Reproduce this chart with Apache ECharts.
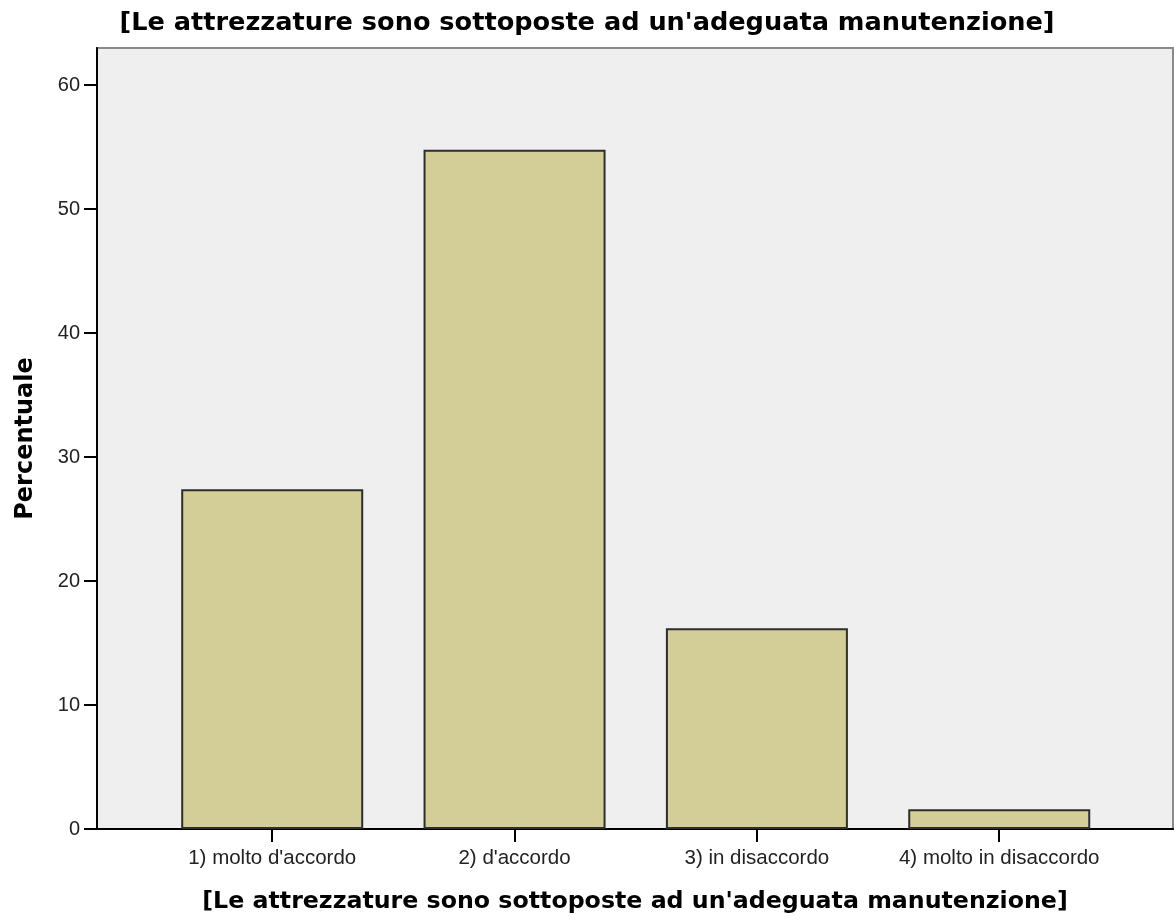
<!DOCTYPE html>
<html>
<head>
<meta charset="utf-8">
<script src="https://cdn.jsdelivr.net/npm/echarts@6/dist/echarts.min.js"></script>
<style>
  html, body { margin: 0; padding: 0; background: #fff; }
  #chart { width: 1174px; height: 923px; }
</style>
</head>
<body>
<div id="chart"></div>
<script>
  // categorie e percentuali
  const categories = ['1) molto d\'accordo', '2) d\'accordo', '3) in disaccordo', '4) molto in disaccordo'];
  const positions = [1, 2, 3, 4];
  const percent = [27.4, 54.8, 16.2, 1.6];
  const yTicks = [0, 10, 20, 30, 40, 50, 60];

  const titleText = '[Le attrezzature sono sottoposte ad un\'adeguata manutenzione]';

  let chart = echarts.init(document.getElementById('chart'));
  let option = {
    backgroundColor: '#ffffff',
    animation: false,
    title: {
      text: titleText,
      left: 'center',
      top: 5,
      textStyle: {
        fontFamily: 'DejaVu Sans',
        fontWeight: 'bold',
        fontSize: 25.6,
        color: '#000'
      }
    },
    grid: {
      left: 97,
      right: 1,
      top: 48,
      bottom: 94,
      show: true,
      backgroundColor: '#efefef',
      borderColor: '#8a8a8a',
      borderWidth: 2
    },
    xAxis: {
      type: 'value',
      min: 0.277,
      max: 4.717,
      name: titleText,
      nameLocation: 'middle',
      nameGap: 61,
      nameTextStyle: {
        fontFamily: 'DejaVu Sans',
        fontWeight: 'bold',
        fontSize: 23.7,
        color: '#000'
      },
      splitLine: { show: false },
      axisLine: { show: true, lineStyle: { color: '#000', width: 2 } },
      axisTick: {
        show: true,
        customValues: positions,
        length: 13,
        lineStyle: { color: '#000', width: 2 }
      },
      axisLabel: {
        customValues: positions,
        margin: 19,
        fontFamily: 'Liberation Sans',
        fontSize: 20.5,
        color: '#222',
        formatter: function (v) {
          return categories[positions.indexOf(Math.round(v))] || '';
        }
      }
    },
    yAxis: {
      type: 'value',
      min: 0,
      max: 63,
      name: 'Percentuale',
      nameLocation: 'middle',
      nameGap: 59,
      nameTextStyle: {
        fontFamily: 'DejaVu Sans',
        fontWeight: 'bold',
        fontSize: 24,
        color: '#000'
      },
      splitLine: { show: false },
      axisLine: { show: true, lineStyle: { color: '#000', width: 2 } },
      axisTick: {
        show: true,
        customValues: yTicks,
        length: 13,
        lineStyle: { color: '#000', width: 2 }
      },
      axisLabel: {
        customValues: yTicks,
        margin: 17,
        fontFamily: 'Liberation Sans',
        fontSize: 20,
        color: '#222'
      }
    },
    series: [{
      type: 'bar',
      data: positions.map((p, i) => [p, percent[i]]),
      barWidth: 182,
      itemStyle: {
        color: '#d3cd97',
        borderColor: '#2e2e2e',
        borderWidth: 2
      }
    }]
  };
  chart.setOption(option);
  window.addEventListener('resize', function () {
    chart.resize();
  });
</script>
</body>
</html>
